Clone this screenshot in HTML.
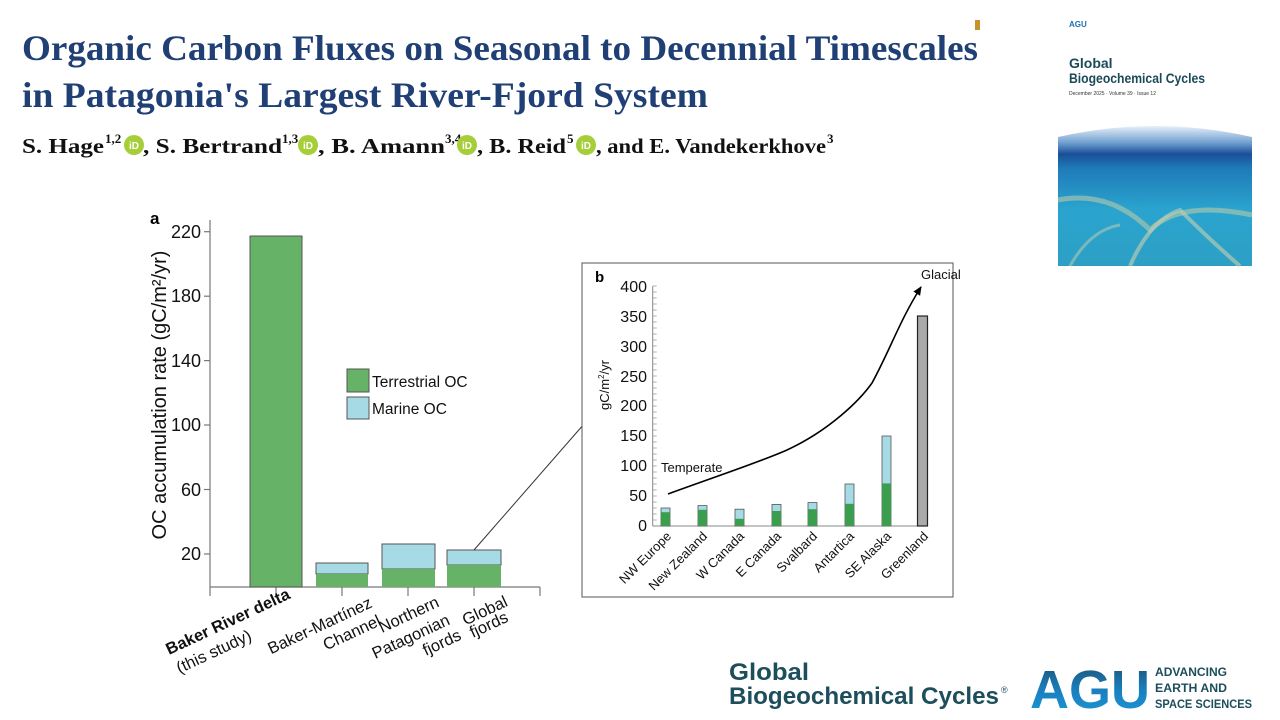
<!DOCTYPE html>
<html><head><meta charset="utf-8"><style>
html,body{margin:0;padding:0;background:#fff;}
svg{display:block;}
</style></head><body>
<svg width="1280" height="720" viewBox="0 0 1280 720" xmlns="http://www.w3.org/2000/svg" font-family="Liberation Sans, Arial, sans-serif">
<defs>
<linearGradient id="sea" x1="0" y1="0" x2="0" y2="1">
<stop offset="0" stop-color="#e8f0f8"/><stop offset="0.12" stop-color="#6f9fd0"/><stop offset="0.2" stop-color="#1a4f98"/><stop offset="0.3" stop-color="#1f7ab8"/><stop offset="0.6" stop-color="#2aa4cf"/><stop offset="1" stop-color="#2d9fc4"/>
</linearGradient>
<linearGradient id="agu" x1="0" y1="0" x2="0" y2="1">
<stop offset="0" stop-color="#1d4e6c"/><stop offset="0.5" stop-color="#1a7fbf"/><stop offset="1" stop-color="#1a9ad6"/>
</linearGradient>
<marker id="arr" markerWidth="10" markerHeight="10" refX="8" refY="4" orient="auto" markerUnits="userSpaceOnUse"><path d="M0,0 L9,4 L0,8 Z" fill="#000"/></marker>
</defs>
<!-- Title -->
<g font-family="Liberation Serif, serif" font-weight="bold" fill="#1f3f75">
<text x="22" y="60" font-size="36" textLength="956" lengthAdjust="spacingAndGlyphs">Organic Carbon Fluxes on Seasonal to Decennial Timescales</text>
<text x="22" y="107" font-size="36" textLength="686" lengthAdjust="spacingAndGlyphs">in Patagonia's Largest River-Fjord System</text>
</g>
<g font-family="Liberation Serif, serif" font-weight="bold" fill="#111" font-size="21">
<text x="22" y="153" textLength="82" lengthAdjust="spacingAndGlyphs">S. Hage</text>
<text x="105" y="143" font-size="13">1,2</text>
<text x="143" y="153" textLength="139" lengthAdjust="spacingAndGlyphs">, S. Bertrand</text>
<text x="282" y="143" font-size="13">1,3</text>
<text x="318" y="153" textLength="127" lengthAdjust="spacingAndGlyphs">, B. Amann</text>
<text x="445" y="143" font-size="13">3,4</text>
<text x="477" y="153" textLength="89" lengthAdjust="spacingAndGlyphs">, B. Reid</text>
<text x="567" y="143" font-size="13">5</text>
<text x="596" y="153" textLength="230" lengthAdjust="spacingAndGlyphs">, and E. Vandekerkhove</text>
<text x="827" y="143" font-size="13">3</text>
</g>
<g fill="#a6ce39">
<circle cx="134" cy="145" r="10"/><circle cx="308" cy="145" r="10"/><circle cx="467" cy="145" r="10"/><circle cx="586" cy="145" r="10"/>
</g>
<g fill="#fff" font-size="10" font-weight="bold"><text x="129" y="149">iD</text><text x="303" y="149">iD</text><text x="462" y="149">iD</text><text x="581" y="149">iD</text></g>
<rect x="975" y="20" width="5" height="10" fill="#c8922a"/>

<!-- Cover -->
<text x="1069" y="27" font-size="8" font-weight="bold" fill="#1a6fb5">AGU</text>
<text x="1069" y="68" font-size="14" font-weight="bold" fill="#1c4a5a">Global</text>
<text x="1069" y="83" font-size="14" font-weight="bold" fill="#1c4a5a" textLength="136" lengthAdjust="spacingAndGlyphs">Biogeochemical Cycles</text>
<text x="1069" y="95" font-size="5" fill="#333">December 2025 · Volume 39 · Issue 12</text>
<path d="M1058,137 Q1155,115 1252,137 L1252,266 L1058,266 Z" fill="url(#sea)"/>
<path d="M1058,200 Q1110,190 1150,230 Q1180,200 1252,215" stroke="#b9c9a8" stroke-width="5" fill="none" opacity="0.6"/>
<path d="M1130,266 Q1150,220 1180,210 Q1210,240 1240,266" stroke="#c8d0b0" stroke-width="4" fill="none" opacity="0.6"/>
<path d="M1070,266 Q1090,230 1120,225" stroke="#c8d0b0" stroke-width="3" fill="none" opacity="0.5"/>

<!-- Chart a -->
<text x="150" y="224" font-size="17" font-weight="bold">a</text>
<g stroke="#777" stroke-width="1.2" fill="none">
<line x1="210" y1="220" x2="210" y2="587"/>
<line x1="210" y1="587" x2="540" y2="587"/>
<line x1="204" y1="231.7" x2="210" y2="231.7"/><line x1="204" y1="296.2" x2="210" y2="296.2"/><line x1="204" y1="360.6" x2="210" y2="360.6"/><line x1="204" y1="425" x2="210" y2="425"/><line x1="204" y1="489.5" x2="210" y2="489.5"/><line x1="204" y1="554" x2="210" y2="554"/>
<line x1="210" y1="587" x2="210" y2="596"/><line x1="276" y1="587" x2="276" y2="596"/><line x1="342" y1="587" x2="342" y2="596"/><line x1="408" y1="587" x2="408" y2="596"/><line x1="474" y1="587" x2="474" y2="596"/><line x1="540" y1="587" x2="540" y2="596"/>
</g>
<g font-size="18" text-anchor="end" fill="#111">
<text x="201" y="238">220</text><text x="201" y="302">180</text><text x="201" y="367">140</text><text x="201" y="431">100</text><text x="201" y="496">60</text><text x="201" y="560">20</text>
</g>
<text transform="translate(166,395) rotate(-90)" text-anchor="middle" font-size="20" fill="#111">OC accumulation rate (gC/m²/yr)</text>
<g stroke="#555" stroke-width="1">
<rect x="250" y="236" width="52" height="351" fill="#66b266"/>
<rect x="316" y="563" width="52" height="11" fill="#a6dbe6"/><rect x="316" y="574" width="52" height="13" fill="#66b266" stroke="none"/>
<rect x="382" y="544" width="53" height="25" fill="#a6dbe6"/><rect x="382" y="569" width="53" height="18" fill="#66b266" stroke="none"/>
<rect x="447" y="550" width="54" height="15" fill="#a6dbe6"/><rect x="447" y="565" width="54" height="22" fill="#66b266" stroke="none"/>
</g>
<rect x="347" y="369" width="22" height="23" fill="#66b266" stroke="#555"/>
<rect x="347" y="397" width="22" height="22" fill="#a6dbe6" stroke="#555"/>
<text x="372" y="387" font-size="15.5" fill="#111">Terrestrial OC</text>
<text x="372" y="414" font-size="15.5" fill="#111">Marine OC</text>
<line x1="474" y1="550" x2="598" y2="408" stroke="#333" stroke-width="1"/>
<g font-size="16.5" fill="#111" text-anchor="middle" dominant-baseline="central">
<text font-weight="bold" transform="translate(228,622) rotate(-25)">Baker River delta</text>
<text transform="translate(214,652) rotate(-25)">(this study)</text>
<text transform="translate(320,626) rotate(-25)">Baker-Martínez</text>
<text transform="translate(352,633) rotate(-25)">Channel</text>
<text transform="translate(409,615) rotate(-25)">Northern</text>
<text transform="translate(411,637) rotate(-25)">Patagonian</text>
<text transform="translate(442,643) rotate(-25)">fjords</text>
<text transform="translate(485,611) rotate(-25)">Global</text>
<text transform="translate(489,625) rotate(-25)">fjords</text>
</g>

<!-- Chart b -->
<rect x="582" y="263" width="371" height="334" fill="#fff" stroke="#555" stroke-width="1"/>
<text x="595" y="282" font-size="15" font-weight="bold">b</text>
<g stroke="#888" stroke-width="1">
<line x1="652.7" y1="286" x2="652.7" y2="526"/>
<line x1="652.7" y1="526" x2="927" y2="526"/>
</g>
<g font-size="16" text-anchor="end" fill="#111">
<text x="647" y="292">400</text><text x="647" y="322">350</text><text x="647" y="352">300</text><text x="647" y="382">250</text><text x="647" y="411">200</text><text x="647" y="441">150</text><text x="647" y="471">100</text><text x="647" y="501">50</text><text x="647" y="531">0</text>
</g>
<g stroke="#999" stroke-width="0.8">
<path d="M652.7,286h4M652.7,292h4M652.7,298h4M652.7,304h4M652.7,310h4M652.7,316h4M652.7,322h4M652.7,328h4M652.7,334h4M652.7,340h4M652.7,346h4M652.7,352h4M652.7,358h4M652.7,364h4M652.7,370h4M652.7,376h4M652.7,382h4M652.7,388h4M652.7,394h4M652.7,400h4M652.7,406h4M652.7,412h4M652.7,418h4M652.7,424h4M652.7,430h4M652.7,436h4M652.7,442h4M652.7,448h4M652.7,454h4M652.7,460h4M652.7,466h4M652.7,472h4M652.7,478h4M652.7,484h4M652.7,490h4M652.7,496h4M652.7,502h4M652.7,508h4M652.7,514h4M652.7,520h4"/>
</g>
<text transform="translate(609,385) rotate(-90)" text-anchor="middle" font-size="13" fill="#111">gC/m<tspan font-size="8" dy="-5">2</tspan><tspan dy="5">/yr</tspan></text>
<g stroke="#555" stroke-width="0.8">
<rect x="661" y="508" width="9" height="18" fill="#a6dbe6"/><rect x="661" y="512.2" width="9" height="13.8" fill="#3a9e4e" stroke="none"/>
<rect x="698" y="505.6" width="9" height="20.4" fill="#a6dbe6"/><rect x="698" y="509.8" width="9" height="16.2" fill="#3a9e4e" stroke="none"/>
<rect x="735" y="509.2" width="9" height="16.8" fill="#a6dbe6"/><rect x="735" y="518.8" width="9" height="7.2" fill="#3a9e4e" stroke="none"/>
<rect x="772" y="504.4" width="9" height="21.6" fill="#a6dbe6"/><rect x="772" y="511" width="9" height="15" fill="#3a9e4e" stroke="none"/>
<rect x="808" y="502.6" width="9" height="23.4" fill="#a6dbe6"/><rect x="808" y="509.2" width="9" height="16.8" fill="#3a9e4e" stroke="none"/>
<rect x="845" y="484" width="9" height="42" fill="#a6dbe6"/><rect x="845" y="503.8" width="9" height="22.2" fill="#3a9e4e" stroke="none"/>
<rect x="882" y="436" width="9" height="90" fill="#a6dbe6"/><rect x="882" y="483.4" width="9" height="42.6" fill="#3a9e4e" stroke="none"/>
<rect x="917.5" y="316" width="10" height="210" fill="#aaa" stroke="#222" stroke-width="1.2"/>
</g>
<path d="M668,494 C720,475 760,462 787,450 C830,430 860,400 872,383 C890,350 900,320 921,287" stroke="#000" stroke-width="1.6" fill="none" marker-end="url(#arr)"/>
<text x="661" y="472" font-size="13" fill="#111">Temperate</text>
<text x="921" y="279" font-size="13" fill="#111">Glacial</text>
<g font-size="13" text-anchor="end" fill="#111">
<text transform="translate(672,537) rotate(-45)">NW Europe</text>
<text transform="translate(708,537) rotate(-45)">New Zealand</text>
<text transform="translate(745,537) rotate(-45)">W Canada</text>
<text transform="translate(782,537) rotate(-45)">E Canada</text>
<text transform="translate(818,537) rotate(-45)">Svalbard</text>
<text transform="translate(855,537) rotate(-45)">Antartica</text>
<text transform="translate(892,537) rotate(-45)">SE Alaska</text>
<text transform="translate(929,537) rotate(-45)">Greenland</text>
</g>

<!-- Footer logos -->
<g fill="#1d4e5c" font-size="24" font-weight="bold">
<text x="729" y="680" textLength="80" lengthAdjust="spacingAndGlyphs">Global</text>
<text x="729" y="704" textLength="270" lengthAdjust="spacingAndGlyphs">Biogeochemical Cycles</text>
</g>
<text x="1001" y="693" font-size="9" fill="#1d4e5c">®</text>
<text x="1030" y="708" fill="url(#agu)" font-weight="bold" font-size="54" textLength="120" lengthAdjust="spacingAndGlyphs">AGU</text>
<g fill="#1d4e5c" font-size="12" font-weight="bold">
<text x="1155" y="676" textLength="72" lengthAdjust="spacingAndGlyphs">ADVANCING</text>
<text x="1155" y="692" textLength="72" lengthAdjust="spacingAndGlyphs">EARTH AND</text>
<text x="1155" y="708" textLength="97" lengthAdjust="spacingAndGlyphs">SPACE SCIENCES</text>
</g>
</svg>
</body></html>
